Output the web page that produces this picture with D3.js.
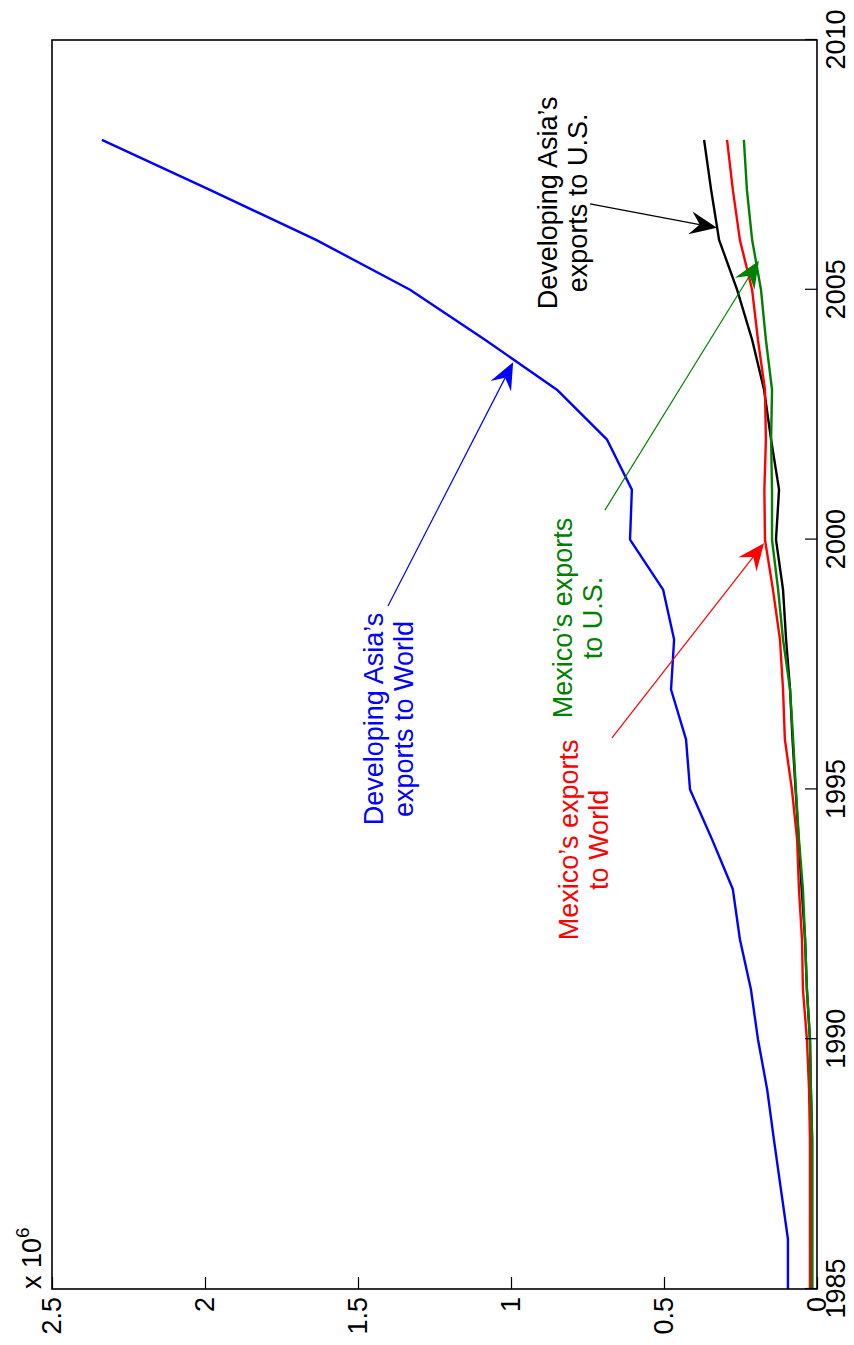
<!DOCTYPE html>
<html>
<head>
<meta charset="utf-8">
<script src="https://cdn.jsdelivr.net/npm/d3@7"></script>
<style>
  html, body { margin: 0; padding: 0; background: #fff; }
  svg { display: block; }
  text { font-family: "Liberation Sans", Arial, Helvetica, sans-serif; }
</style>
</head>
<body>
<svg id="chart" width="854" height="1345"></svg>
<script>
// Annual exports, in units of 10^6 (millions of US$), 1985-2008
const years = d3.range(1985, 2009);
const asiaToWorld   = [0.095, 0.095, 0.118, 0.141, 0.163, 0.193, 0.216, 0.252, 0.275, 0.343, 0.415, 0.428,
                       0.477, 0.467, 0.503, 0.611, 0.605, 0.686, 0.850, 1.085, 1.330, 1.637, 1.984, 2.337];
const asiaToUS      = [0.016, 0.016, 0.016, 0.016, 0.020, 0.023, 0.033, 0.039, 0.050, 0.060, 0.070, 0.080,
                       0.088, 0.101, 0.111, 0.134, 0.124, 0.150, 0.173, 0.212, 0.261, 0.320, 0.346, 0.369];
const mexicoToWorld = [0.023, 0.023, 0.023, 0.023, 0.026, 0.033, 0.046, 0.049, 0.059, 0.065, 0.082, 0.105,
                       0.111, 0.121, 0.144, 0.170, 0.172, 0.167, 0.170, 0.193, 0.212, 0.252, 0.275, 0.294];
const mexicoToUS    = [0.016, 0.016, 0.016, 0.016, 0.020, 0.023, 0.033, 0.039, 0.046, 0.059, 0.069, 0.078,
                       0.088, 0.111, 0.127, 0.147, 0.147, 0.150, 0.147, 0.167, 0.183, 0.212, 0.229, 0.239];

const yearTicks  = [1985, 1990, 1995, 2000, 2005, 2010];
const valueTicks = [0, 0.5, 1, 1.5, 2, 2.5];
const exponentLabel = ["x 10", "6"];

const series = [
  { values: asiaToWorld,   color: "#0000ff" },
  { values: asiaToUS,      color: "#000000" },
  { values: mexicoToWorld, color: "#ff0000" },
  { values: mexicoToUS,    color: "#008000" }
];

// Callouts: text block anchored at (year, value) of first baseline; arrow from tail to head
const callouts = [
  { lines: ["Developing Asia\u2019s", "exports to U.S."],  color: "#000000",
    text: [2006.74, 0.850], tail: [2006.72, 0.742], head: [2006.24, 0.327] },
  { lines: ["Developing Asia\u2019s", "exports to World"], color: "#0000ff",
    text: [1996.41, 1.418], tail: [1998.67, 1.402], head: [2003.55, 0.993] },
  { lines: ["Mexico\u2019s exports", "to U.S."],          color: "#008000",
    text: [1998.43, 0.801], tail: [2000.59, 0.693], head: [2005.58, 0.190] },
  { lines: ["Mexico\u2019s exports", "to World"],         color: "#ff0000",
    text: [1993.99, 0.781], tail: [1996.03, 0.670], head: [1999.93, 0.173] }
];

// ---- layout ----
const frame = { left: 52, top: 40, right: 817, bottom: 1289 };
const alongLen = frame.bottom - frame.top;   // year axis length
const depthLen = frame.right - frame.left;   // value axis length
const fontSize = 27;

const svg = d3.select("#chart");
// The whole axes are turned a quarter turn counter-clockwise
const g = svg.append("g")
  .attr("transform", `translate(${frame.left},${frame.bottom}) rotate(-90)`);

const x = d3.scaleLinear().domain([1985, 2010]).range([0, alongLen]);
const y = d3.scaleLinear().domain([0, 2.5]).range([depthLen, 0]);

// data lines
const line = d3.line().x(d => x(d[0])).y(d => y(d[1]));
g.append("g").selectAll("path")
  .data(series)
  .join("path")
  .attr("d", s => line(years.map((yr, i) => [yr, s.values[i]])))
  .attr("fill", "none")
  .attr("stroke", s => s.color)
  .attr("stroke-width", 2.4)
  .attr("stroke-linejoin", "round");

// axes
const xAxis = d3.axisBottom(x).tickValues(yearTicks).tickFormat(d3.format("d"))
  .tickSizeInner(-12).tickSizeOuter(0).tickPadding(9);
const yAxis = d3.axisLeft(y).tickValues(valueTicks).tickFormat(d => String(d))
  .tickSizeInner(-12).tickSizeOuter(0).tickPadding(8);

const gx = g.append("g").attr("transform", `translate(0,${depthLen})`).call(xAxis);
const gy = g.append("g").call(yAxis);
[gx, gy].forEach(a => {
  a.select(".domain").remove();
  a.attr("font-size", fontSize).attr("font-family", null);
  a.selectAll("line").attr("stroke", "#000").attr("stroke-width", 1.2);
  a.selectAll("text").attr("fill", "#000");
});

// frame
g.append("rect")
  .attr("x", 0).attr("y", 0)
  .attr("width", alongLen).attr("height", depthLen)
  .attr("fill", "none").attr("stroke", "#000").attr("stroke-width", 1.6);

// exponent label
const expText = g.append("text")
  .attr("x", 0).attr("y", -11)
  .attr("font-size", fontSize).attr("fill", "#000");
expText.append("tspan").text(exponentLabel[0]);
expText.append("tspan").attr("dy", -12).attr("font-size", 19).text(exponentLabel[1]);

// callouts
const headLen = 27, headWidth = 23, notch = 0.65;
callouts.forEach(c => {
  const t = [x(c.tail[0]), y(c.tail[1])];
  const h = [x(c.head[0]), y(c.head[1])];
  const dx = h[0] - t[0], dy = h[1] - t[1];
  const len = Math.hypot(dx, dy);
  const ux = dx / len, uy = dy / len;
  const px = -uy, py = ux;
  const back = [h[0] - ux * headLen, h[1] - uy * headLen];
  const nb = [h[0] - ux * headLen * notch, h[1] - uy * headLen * notch];

  g.append("line")
    .attr("x1", t[0]).attr("y1", t[1])
    .attr("x2", nb[0]).attr("y2", nb[1])
    .attr("stroke", c.color).attr("stroke-width", 1.2);

  const pts = [
    h,
    [back[0] + px * headWidth / 2, back[1] + py * headWidth / 2],
    nb,
    [back[0] - px * headWidth / 2, back[1] - py * headWidth / 2]
  ];
  g.append("polygon")
    .attr("points", pts.map(p => p.join(",")).join(" "))
    .attr("fill", c.color);

  const tx = x(c.text[0]), ty = y(c.text[1]);
  const label = g.append("text")
    .attr("text-anchor", "middle")
    .attr("font-size", fontSize)
    .attr("fill", c.color);
  c.lines.forEach((s, i) => {
    label.append("tspan").attr("x", tx).attr("y", ty + i * 30).text(s);
  });
});
</script>
</body>
</html>
